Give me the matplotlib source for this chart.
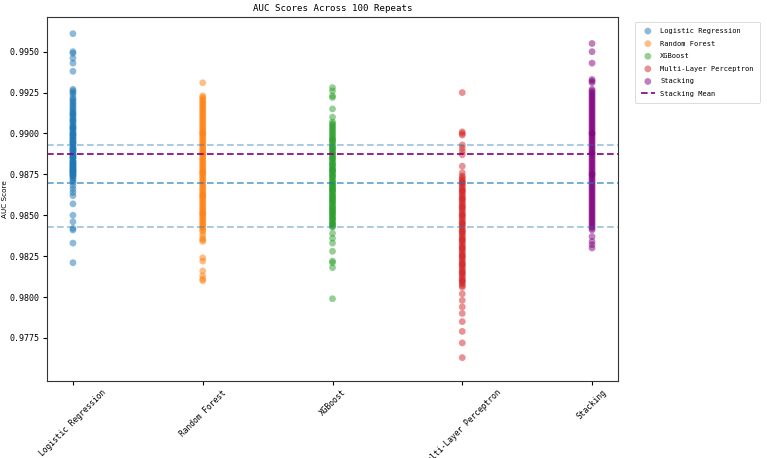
import matplotlib
matplotlib.use("Agg")
import matplotlib.pyplot as plt

models = ["Logistic Regression", "Random Forest", "XGBoost",
          "Multi-Layer Perceptron", "Stacking"]
colors = ["tab:blue", "tab:orange", "tab:green", "tab:red", "purple"]

# AUC per repeat (100 each)
lr_auc = [
    0.9961, 0.9950, 0.9949, 0.9946, 0.9943, 0.9938,
    0.9927, 0.9926, 0.9925, 0.9924, 0.9922, 0.9921, 0.9920, 0.9919, 0.9918, 0.9917,
    0.9916, 0.9915, 0.9914, 0.9913, 0.9912, 0.9911, 0.9910, 0.9909, 0.9908, 0.9907,
    0.9906, 0.9905, 0.9904, 0.9903, 0.9903, 0.9902, 0.9901, 0.9900, 0.9900, 0.9899,
    0.9898, 0.9897, 0.9897, 0.9896, 0.9895, 0.9894, 0.9894, 0.9893, 0.9892, 0.9891,
    0.9891, 0.9890, 0.9889, 0.9889, 0.9888, 0.9887, 0.9887, 0.9886, 0.9885, 0.9885,
    0.9884, 0.9883, 0.9883, 0.9882, 0.9882, 0.9881, 0.9880, 0.9880, 0.9879, 0.9879,
    0.9878, 0.9878, 0.9877, 0.9877, 0.9876, 0.9876, 0.9875, 0.9875, 0.9874, 0.9874,
    0.9912, 0.9908, 0.9904, 0.9899, 0.9895, 0.9890, 0.9886, 0.9881, 0.9877, 0.9873,
    0.9872, 0.9871,
    0.9870, 0.9868, 0.9866, 0.9864, 0.9862, 0.9857, 0.9850, 0.9846, 0.9842, 0.9841,
    0.9833, 0.9821,
]
rf_auc = [
    0.9931,
    0.9923, 0.9922, 0.9921, 0.9920, 0.9919, 0.9918, 0.9917, 0.9916, 0.9915, 0.9914,
    0.9913, 0.9912, 0.9911, 0.9910, 0.9909, 0.9908, 0.9907, 0.9906, 0.9905, 0.9904,
    0.9903, 0.9902, 0.9901, 0.9900, 0.9899, 0.9898, 0.9897, 0.9896, 0.9895, 0.9894,
    0.9893, 0.9892, 0.9891, 0.9890, 0.9889, 0.9888, 0.9887, 0.9886, 0.9885, 0.9884,
    0.9883, 0.9882, 0.9881, 0.9880, 0.9879, 0.9878, 0.9877, 0.9876, 0.9875, 0.9874,
    0.9873, 0.9872, 0.9871, 0.9870, 0.9869, 0.9868, 0.9867, 0.9866, 0.9865, 0.9864,
    0.9863, 0.9862, 0.9861, 0.9860, 0.9859, 0.9858, 0.9857, 0.9856, 0.9855, 0.9854,
    0.9853, 0.9852, 0.9851, 0.9850, 0.9849, 0.9848, 0.9847, 0.9846, 0.9845, 0.9844,
    0.9843, 0.9842, 0.9841, 0.9840, 0.9838, 0.9836, 0.9834, 0.9835,
    0.9900, 0.9888, 0.9876, 0.9862, 0.9851,
    0.9824, 0.9822, 0.9816, 0.9813, 0.9811, 0.9810,
]
xgb_auc = [
    0.9928, 0.9926, 0.9923, 0.9922, 0.9915, 0.9910,
    0.9907, 0.9906, 0.9905, 0.9904, 0.9903, 0.9902, 0.9901, 0.9900, 0.9899, 0.9898,
    0.9897, 0.9896, 0.9895, 0.9894, 0.9893, 0.9892, 0.9891, 0.9890, 0.9889, 0.9888,
    0.9887, 0.9886, 0.9885, 0.9884, 0.9883, 0.9882, 0.9881, 0.9880, 0.9879, 0.9878,
    0.9877, 0.9876, 0.9875, 0.9874, 0.9873, 0.9872, 0.9871, 0.9870, 0.9869, 0.9868,
    0.9867, 0.9866, 0.9865, 0.9864, 0.9863, 0.9862, 0.9861, 0.9860, 0.9859, 0.9858,
    0.9857, 0.9856, 0.9855, 0.9854, 0.9853, 0.9852, 0.9851, 0.9850, 0.9849, 0.9848,
    0.9847, 0.9846, 0.9845, 0.9844, 0.9843,
    0.9896, 0.9891, 0.9885, 0.9881, 0.9878, 0.9874, 0.9870, 0.9868, 0.9865, 0.9862,
    0.9858, 0.9855, 0.9851, 0.9848, 0.9845, 0.9888, 0.9877, 0.9866, 0.9860, 0.9853,
    0.9843,
    0.9839, 0.9836, 0.9833, 0.9828, 0.9822, 0.9821, 0.9818, 0.9799,
]
mlp_auc = [
    0.9925,
    0.9901, 0.9900, 0.9899, 0.9893, 0.9891, 0.9889, 0.9887, 0.9880, 0.9876,
    0.9874, 0.9873, 0.9872, 0.9871, 0.9870, 0.9869, 0.9868, 0.9867, 0.9866, 0.9865,
    0.9864, 0.9863, 0.9862, 0.9861, 0.9860, 0.9859, 0.9858, 0.9857, 0.9856, 0.9855,
    0.9854, 0.9853, 0.9852, 0.9851, 0.9850, 0.9849, 0.9848, 0.9847, 0.9846, 0.9845,
    0.9844, 0.9843, 0.9842, 0.9841, 0.9840, 0.9839, 0.9838, 0.9837, 0.9836, 0.9835,
    0.9834, 0.9833, 0.9832, 0.9831, 0.9830, 0.9829, 0.9828, 0.9827, 0.9826, 0.9825,
    0.9824, 0.9823, 0.9822, 0.9821, 0.9820, 0.9819, 0.9818, 0.9817, 0.9816, 0.9815,
    0.9814, 0.9813, 0.9812, 0.9811, 0.9810, 0.9809, 0.9808, 0.9807, 0.9806,
    0.9870, 0.9865, 0.9860, 0.9855, 0.9850, 0.9845, 0.9840, 0.9835, 0.9830, 0.9825,
    0.9820, 0.9815, 0.9810,
    0.9802, 0.9798, 0.9794, 0.9790, 0.9785, 0.9779, 0.9772, 0.9763,
]
stack_auc = [
    0.9955, 0.9950, 0.9943, 0.9933, 0.9932, 0.9931,
    0.9927, 0.9926, 0.9925, 0.9924, 0.9923, 0.9922, 0.9921, 0.9920, 0.9919, 0.9918,
    0.9917, 0.9916, 0.9915, 0.9914, 0.9913, 0.9912, 0.9911, 0.9910, 0.9909, 0.9908,
    0.9907, 0.9906, 0.9905, 0.9904, 0.9903, 0.9902, 0.9901, 0.9900, 0.9899, 0.9898,
    0.9897, 0.9896, 0.9895, 0.9894, 0.9893, 0.9892, 0.9891, 0.9890, 0.9889, 0.9888,
    0.9887, 0.9886, 0.9885, 0.9884, 0.9883, 0.9882, 0.9881, 0.9880, 0.9879, 0.9878,
    0.9877, 0.9876, 0.9875, 0.9874, 0.9873, 0.9872, 0.9871, 0.9870, 0.9869, 0.9868,
    0.9867, 0.9866, 0.9865, 0.9864, 0.9863, 0.9862, 0.9861, 0.9860, 0.9859, 0.9858,
    0.9857, 0.9856, 0.9855, 0.9854, 0.9853, 0.9852, 0.9851, 0.9850, 0.9849, 0.9848,
    0.9847, 0.9846, 0.9845, 0.9844, 0.9843, 0.9842, 0.9841,
    0.9900, 0.9888, 0.9875,
    0.9837, 0.9834, 0.9832, 0.9830,
]
all_auc = [lr_auc, rf_auc, xgb_auc, mlp_auc, stack_auc]

# reference lines
ref_mean = 0.9870
ref_band = [0.9893, 0.9843]
stack_mean = 0.98875
yticks = [0.9775, 0.9800, 0.9825, 0.9850, 0.9875, 0.9900, 0.9925, 0.9950]

mono = "DejaVu Sans Mono"
fig = plt.figure(figsize=(7.67, 4.58), dpi=100)
ax = fig.add_axes([47 / 767, 1 - 381 / 458, 571 / 767, 364 / 458])

for i, (name, vals, c) in enumerate(zip(models, all_auc, colors)):
    ax.scatter([i] * len(vals), vals, s=24, color=c, alpha=0.5,
               edgecolors="none", label=name)

ax.axhline(ref_mean, color="tab:blue", ls="--", lw=1.2, alpha=0.7, dashes=(4, 2))
for v in ref_band:
    ax.axhline(v, color="tab:blue", ls="--", lw=1.2, alpha=0.45, dashes=(4, 2))
ax.axhline(stack_mean, color="purple", ls="--", lw=1.2, dashes=(4, 2),
           label="Stacking Mean")

ax.set_xticks(range(len(models)))
ax.set_xticklabels(models, rotation=45, fontsize=5.7, family=mono)
ax.set_yticks(yticks)
ax.set_yticklabels([f"{v:.4f}" for v in yticks], fontsize=6.0, family=mono)
ax.tick_params(length=3, width=0.8)
ax.tick_params(axis="x", pad=2)
ax.tick_params(axis="y", pad=2.5)
ax.set_ylim(0.97487, 0.99712)
ax.set_ylabel("AUC Score", fontsize=5.2)
ax.yaxis.set_label_coords(-0.068, 0.5)
ax.set_title("AUC Scores Across 100 Repeats", fontsize=6.6, family=mono, pad=4)
for s in ax.spines.values():
    s.set_linewidth(0.8)
    s.set_color("#333333")

leg = ax.legend(loc="upper left", bbox_to_anchor=(635 / 767, 1 - 22 / 458),
                bbox_transform=fig.transFigure, borderaxespad=0,
                prop={"family": mono, "size": 5.0}, handlelength=2.0,
                labelspacing=0.95, borderpad=0.85)
leg.get_frame().set_linewidth(0.6)

fig.savefig("out.png", dpi=100)
